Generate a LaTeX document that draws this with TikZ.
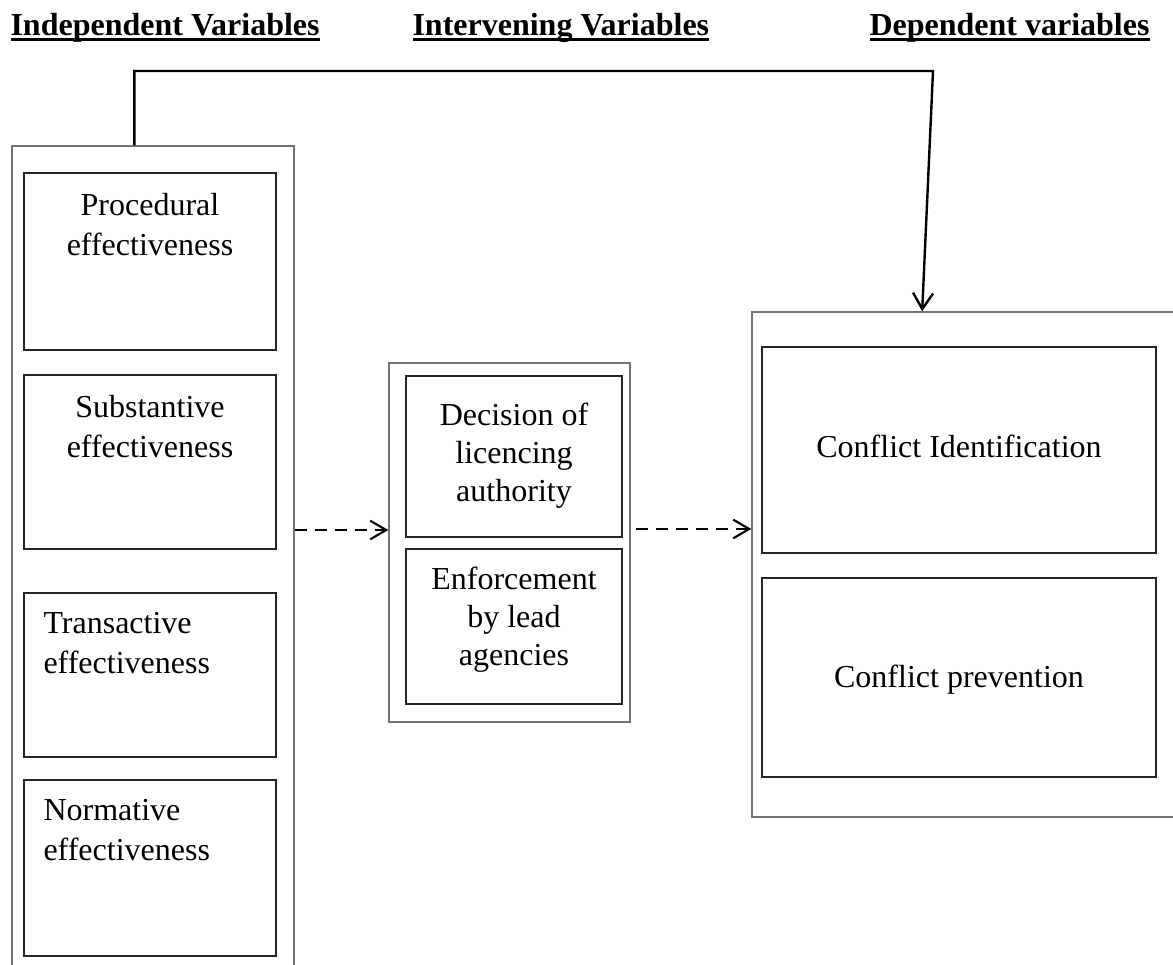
\documentclass[tikz,border=0pt]{standalone}
\usepackage{fontspec}
\setmainfont{Liberation Serif}
\usetikzlibrary{fit,arrows.meta}

\newcommand{\tstrut}{\rule{0pt}{9pt}}
\newcommand{\hdline}[1]{\setbox0\hbox{#1}\leavevmode\rlap{\rule[-2.4pt]{\wd0}{1.1pt}}\box0}

\tikzset{
    outerbox/.style={draw=black!55, line width=0.5pt, inner sep=0pt},
    innerbox/.style={draw=black!85, line width=0.5pt, inner sep=0pt},
    txt/.style={font=\fontsize{12}{15}\selectfont, inner sep=0pt, anchor=north, align=center},
    midtxt/.style={txt, font=\fontsize{12}{14.3}\selectfont},
    lefttxt/.style={txt, anchor=north west, align=left},
    heading/.style={font=\fontsize{12}{15}\selectfont\bfseries, inner sep=0pt, anchor=base west},
    flow/.style={dash pattern=on 4.5pt off 3pt, line width=0.8pt, -{Straight Barb[length=6pt,width=7pt,line width=0.8pt]}},
    link/.style={line width=0.9pt, -{Straight Barb[length=6pt,width=7.5pt,line width=0.9pt]}}
}

\begin{document}
\begin{tikzpicture}[x=0.375pt, y=-0.375pt]
    \useasboundingbox (0,0) rectangle (1173,964);

    \node[heading] (hind) at (10,35) {\hdline{Independent Variables}};
    \node[heading] (hint) at (412,35) {\hdline{Intervening Variables}};
    \node[heading] (hdep) at (869,35) {\hdline{Dependent variables}};

    \node[outerbox, fit={(12,146) (294,975)}] (indep) {};
    \foreach \name/\top/\bot in {proc/173/350, subs/375/549, trans/593/757, norm/780/956} {
        \node[innerbox, fit={(24,\top) (276,\bot)}] (\name) {};
    }
    \node[txt] at (150,191) {\tstrut Procedural\\effectiveness};
    \node[txt] at (150,393) {\tstrut Substantive\\effectiveness};
    \node[lefttxt] at (43,609) {\tstrut Transactive\\effectiveness};
    \node[lefttxt] at (43,796) {\tstrut Normative\\effectiveness};

    \node[outerbox, fit={(389,363) (630,722)}] (inter) {};
    \node[innerbox, fit={(406,376) (622,537)}] (dec) {};
    \node[innerbox, fit={(406,549) (622,704)}] (enf) {};
    \node[midtxt] at (514,401) {\tstrut Decision of\\licencing\\authority};
    \node[midtxt] at (514,565) {\tstrut Enforcement\\by lead\\agencies};

    \node[outerbox, fit={(752,312) (1175,817)}] (dep) {};
    \node[innerbox, fit={(762,347) (1156,553)}] (ident) {};
    \node[innerbox, fit={(762,578) (1156,777)}] (prev) {};
    \node[txt] at (959,433) {\tstrut Conflict Identification};
    \node[txt] at (959,663) {\tstrut Conflict prevention};

    \draw[flow] (indep.east |- 0,530) -- (inter.west |- 0,530);
    \draw[flow, shorten <=2pt] (inter.east |- 0,529) -- (dep.west |- 0,529);
    \draw[link] ([xshift=-7pt]indep.north) |- (933,71) -- ([xshift=-15.5pt]dep.north);
\end{tikzpicture}
\end{document}
